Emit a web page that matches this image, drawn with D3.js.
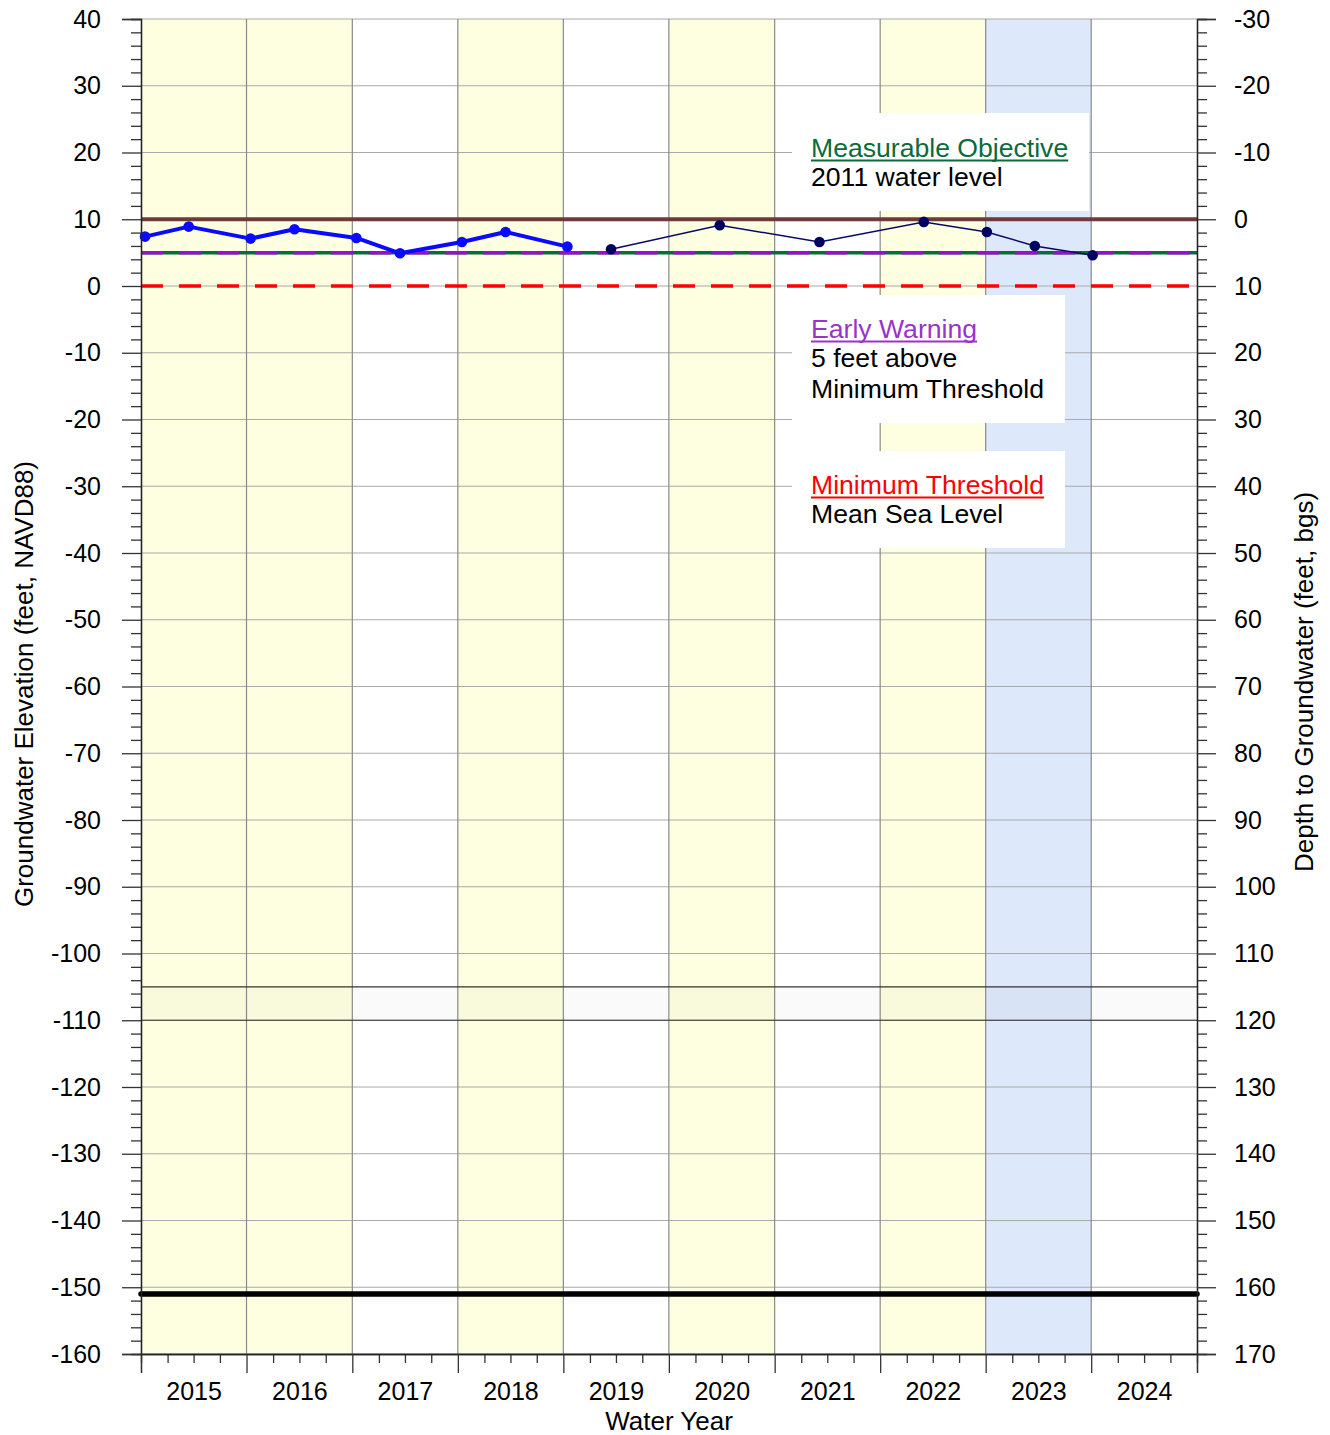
<!DOCTYPE html>
<html>
<head>
<meta charset="utf-8">
<script src="https://cdn.jsdelivr.net/npm/d3@7"></script>
<style>
  body { margin: 0; background: #fff; }
  text { font-family: "Liberation Sans", Arial, Helvetica, sans-serif; fill: #000; }
</style>
</head>
<body>
<div id="chart"></div>
<script>
  // ---- data ----
  const parseDate = d3.timeParse("%Y-%m-%d");

  const waterYears = [2015, 2016, 2017, 2018, 2019, 2020, 2021, 2022, 2023, 2024];
  const yellowYears = [2015, 2016, 2018, 2020, 2022]; // shaded years
  const blueYears = [2023];

  // early record (thick blue)
  const earlyDates = ["2014-10-15", "2015-03-15", "2015-10-15", "2016-03-15", "2016-10-15",
    "2017-03-15", "2017-10-15", "2018-03-15", "2018-10-15"];
  const earlyValues = [7.4, 8.9, 7.1, 8.5, 7.2, 4.9, 6.6, 8.1, 5.9];

  // later record (thin navy)
  const lateDates = ["2019-03-15", "2020-03-25", "2021-03-05", "2022-03-01", "2022-10-05",
    "2023-03-20", "2023-10-06"];
  const lateValues = [5.5, 9.1, 6.6, 9.6, 8.1, 6.0, 4.6];

  const measurableObjective = 10;
  const earlyWarning = 5;
  const minimumThreshold = 0;
  const screenTop = -105;
  const screenBottom = -110;
  const wellBottom = -151;
  const landSurface = 10; // depth = landSurface - elevation

  const yTicks = d3.range(-160, 41, 10);

  const legendBlocks = [
    { title: "Measurable Objective", lines: ["2011 water level"], color: "#0b6b3a" },
    { title: "Early Warning", lines: ["5 feet above", "Minimum Threshold"], color: "#9933cc" },
    { title: "Minimum Threshold", lines: ["Mean Sea Level"], color: "#ff0000" },
  ];

  // ---- layout ----
  const svgWidth = 1330, svgHeight = 1435;
  const margin = { top: 19, left: 141, right: 133, bottom: 81 };
  const width = svgWidth - margin.left - margin.right;
  const height = svgHeight - margin.top - margin.bottom;

  const svg = d3.select("#chart").append("svg")
    .attr("width", svgWidth)
    .attr("height", svgHeight)
    .append("g")
    .attr("transform", "translate(" + margin.left + "," + margin.top + ")");

  const x = d3.scaleTime()
    .domain([new Date(2014, 9, 1), new Date(2024, 9, 1)])
    .range([0, width]);
  const y = d3.scaleLinear().domain([-160, 40]).range([height, 0]);
  const yDepth = d3.scaleLinear()
    .domain([landSurface + 160, landSurface - 40]).range([height, 0]);

  const wyStart = (wy) => new Date(wy - 1, 9, 1);
  const wyEnd = (wy) => new Date(wy, 9, 1);
  const wyMid = (wy) => new Date(wy, 3, 1);
  const hyphenFormat = (d) => String(d); // plain hyphen minus like the original

  // shaded year bands
  svg.selectAll("rect.yellow").data(yellowYears).enter().append("rect")
    .attr("class", "yellow")
    .attr("x", (d) => x(wyStart(d)))
    .attr("width", (d) => x(wyEnd(d)) - x(wyStart(d)))
    .attr("y", 0).attr("height", height)
    .attr("fill", "#fefee0");
  svg.selectAll("rect.blue").data(blueYears).enter().append("rect")
    .attr("class", "blue")
    .attr("x", (d) => x(wyStart(d)))
    .attr("width", (d) => x(wyEnd(d)) - x(wyStart(d)))
    .attr("y", 0).attr("height", height)
    .attr("fill", "#dee8fb");

  // screened interval
  svg.append("rect")
    .attr("x", 0).attr("width", width)
    .attr("y", y(screenTop)).attr("height", y(screenBottom) - y(screenTop))
    .attr("fill", "#000").attr("fill-opacity", 0.018);

  // grid
  svg.selectAll("line.hgrid").data(yTicks).enter().append("line")
    .attr("class", "hgrid")
    .attr("x1", 0).attr("x2", width)
    .attr("y1", (d) => y(d)).attr("y2", (d) => y(d))
    .attr("stroke", "#aaa").attr("stroke-width", 1.2);
  svg.selectAll("line.vgrid").data(waterYears.slice(1)).enter().append("line")
    .attr("class", "vgrid")
    .attr("x1", (d) => x(wyStart(d))).attr("x2", (d) => x(wyStart(d)))
    .attr("y1", 0).attr("y2", height)
    .attr("stroke", "#8a8a8a").attr("stroke-width", 1.2);
  svg.selectAll("line.screen").data([screenTop, screenBottom]).enter().append("line")
    .attr("class", "screen")
    .attr("x1", 0).attr("x2", width)
    .attr("y1", (d) => y(d)).attr("y2", (d) => y(d))
    .attr("stroke", "#333").attr("stroke-width", 1.2);

  // legend boxes (white panels)
  const boxes = [
    { x: 792, y: 113, w: 297, h: 98, base: 157 },
    { x: 792, y: 295, w: 273, h: 128, base: 338 },
    { x: 792, y: 451, w: 273, h: 97, base: 494 },
  ];
  const lineGap = 30;
  legendBlocks.forEach((blk, i) => {
    const b = boxes[i];
    const g = svg.append("g")
      .attr("transform", "translate(" + (b.x - margin.left) + "," + (b.y - margin.top) + ")");
    g.append("rect").attr("width", b.w).attr("height", b.h).attr("fill", "#fff");
    const tx = 811 - b.x, ty = b.base - b.y;
    const title = g.append("text")
      .attr("x", tx).attr("y", ty)
      .style("font-size", "26.6px")
      .style("fill", blk.color)
      .text(blk.title);
    const tw = title.node().getComputedTextLength();
    g.append("line")
      .attr("x1", tx).attr("x2", tx + tw)
      .attr("y1", ty + 3.5).attr("y2", ty + 3.5)
      .attr("stroke", blk.color).attr("stroke-width", 1.8);
    blk.lines.forEach((ln, j) => {
      g.append("text")
        .attr("x", tx).attr("y", ty + lineGap * (j + 1) - (j > 0 ? 0 : 1))
        .style("font-size", "26.6px")
        .text(ln);
    });
  });

  // threshold lines
  svg.append("line")
    .attr("x1", 0).attr("x2", width)
    .attr("y1", y(measurableObjective)).attr("y2", y(measurableObjective))
    .attr("stroke", "#713a3a").attr("stroke-width", 3.8);
  svg.append("line")
    .attr("x1", 0).attr("x2", width)
    .attr("y1", y(earlyWarning)).attr("y2", y(earlyWarning))
    .attr("stroke", "#0b6b3a").attr("stroke-width", 3.5);
  svg.append("line")
    .attr("x1", 0).attr("x2", width)
    .attr("y1", y(earlyWarning)).attr("y2", y(earlyWarning))
    .attr("stroke", "#9a0fcc").attr("stroke-width", 3.5)
    .attr("stroke-dasharray", "22,16");
  svg.append("line")
    .attr("x1", 0).attr("x2", width)
    .attr("y1", y(minimumThreshold)).attr("y2", y(minimumThreshold))
    .attr("stroke", "#ff0000").attr("stroke-width", 3.5)
    .attr("stroke-dasharray", "22,16");
  svg.append("line")
    .attr("x1", 0).attr("x2", width)
    .attr("y1", y(wellBottom)).attr("y2", y(wellBottom))
    .attr("stroke", "#000").attr("stroke-width", 5.5)
    .attr("stroke-linecap", "round");

  // data series
  const early = earlyDates.map((d, i) => ({ date: parseDate(d), value: earlyValues[i] }));
  const late = lateDates.map((d, i) => ({ date: parseDate(d), value: lateValues[i] }));
  const line = d3.line().x((d) => x(d.date)).y((d) => y(d.value));

  svg.append("path").datum(late)
    .attr("d", line).attr("fill", "none")
    .attr("stroke", "#0a0a66").attr("stroke-width", 1.5);
  svg.selectAll("circle.late").data(late).enter().append("circle")
    .attr("class", "late")
    .attr("cx", (d) => x(d.date)).attr("cy", (d) => y(d.value))
    .attr("r", 5.3).attr("fill", "#000060");

  svg.append("path").datum(early)
    .attr("d", line).attr("fill", "none")
    .attr("stroke", "#0a0aff").attr("stroke-width", 4)
    .attr("stroke-linejoin", "round");
  svg.selectAll("circle.early").data(early).enter().append("circle")
    .attr("class", "early")
    .attr("cx", (d) => x(d.date)).attr("cy", (d) => y(d.value))
    .attr("r", 5.3).attr("fill", "#0a0aff");

  // axes
  const styleAxis = (g) => {
    g.select(".domain").attr("stroke", "#222").attr("stroke-width", 1.3);
    g.selectAll(".tick line").attr("stroke", "#333").attr("stroke-width", 1.3);
    g.selectAll(".tick text").style("font-size", "25px")
      .style("font-family", '"Liberation Sans", Arial, sans-serif').attr("fill", "#000");
  };

  const minorY = d3.range(-160, 41, 2).filter((d) => d % 10 !== 0);
  svg.append("g")
    .call(d3.axisLeft(y).tickValues(minorY).tickSize(10).tickFormat(""))
    .call(styleAxis);
  svg.append("g")
    .call(d3.axisLeft(y).tickValues(yTicks).tickSize(19).tickPadding(21)
      .tickFormat(hyphenFormat))
    .call(styleAxis);

  svg.append("g").attr("transform", "translate(" + width + ",0)")
    .call(d3.axisRight(y).tickValues(minorY).tickSize(10).tickFormat(""))
    .call(styleAxis);
  svg.append("g").attr("transform", "translate(" + width + ",0)")
    .call(d3.axisRight(yDepth).tickValues(yTicks.map((d) => landSurface - d))
      .tickSize(19).tickPadding(18).tickFormat(hyphenFormat))
    .call(styleAxis);

  const quarterTicks = d3.timeMonth.every(3).range(new Date(2014, 9, 1), new Date(2024, 9, 2))
    .filter((d) => d.getMonth() !== 9);
  svg.append("g").attr("transform", "translate(0," + height + ")")
    .call(d3.axisBottom(x).tickValues(quarterTicks).tickSize(9).tickFormat(""))
    .call(styleAxis);
  svg.append("g").attr("transform", "translate(0," + height + ")")
    .call(d3.axisBottom(x).tickValues(waterYears.map(wyStart).concat([wyEnd(2024)]))
      .tickSize(19).tickFormat(""))
    .call(styleAxis);
  svg.append("g").attr("transform", "translate(0," + height + ")")
    .call(d3.axisBottom(x).tickValues(waterYears.map(wyMid)).tickSize(0).tickPadding(28)
      .tickFormat(d3.timeFormat("%Y")))
    .call(styleAxis)
    .call((g) => g.select(".domain").remove());

  // axis titles
  svg.append("text")
    .attr("transform", "translate(" + (33 - margin.left) + "," + (684 - margin.top) + ") rotate(-90)")
    .style("text-anchor", "middle").style("font-size", "26px")
    .text("Groundwater Elevation (feet, NAVD88)");
  svg.append("text")
    .attr("transform", "translate(" + (1313 - margin.left) + "," + (682 - margin.top) + ") rotate(-90)")
    .style("text-anchor", "middle").style("font-size", "26px")
    .text("Depth to Groundwater (feet, bgs)");
  svg.append("text")
    .attr("x", 669 - margin.left).attr("y", 1430 - margin.top)
    .style("text-anchor", "middle").style("font-size", "26px")
    .text("Water Year");
</script>
</body>
</html>
